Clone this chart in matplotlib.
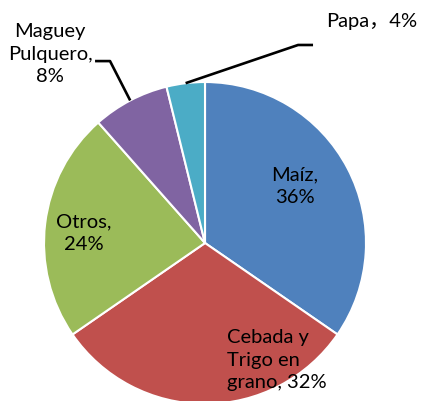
"""Pie chart: share of cultivated production by crop.

Five wedges, clockwise from 12 o'clock. Labels inside the large wedges,
leader lines with an elbow for the two small wedges at the top.
"""

import numpy as np
import matplotlib.pyplot as plt

plt.rcParams.update({
    "font.family": ["Lato", "Noto Sans CJK SC", "DejaVu Sans"],
    "font.size": 14.5,
    "lines.solid_capstyle": "butt",
})

OUT = "out.png"

BLUE   = "#4F81BD"
RED    = "#C0504D"
GREEN  = "#9BBB59"
PURPLE = "#8064A2"
AQUA   = "#4BACC6"
INK    = "#000000"
LSP    = 1.4  # line spacing of the wrapped labels


def main() -> None:
    crops = [
        {"name": "Maíz",                    "value": 36, "color": BLUE},
        {"name": "Cebada y Trigo en grano", "value": 32, "color": RED},
        {"name": "Otros",                   "value": 24, "color": GREEN},
        {"name": "Maguey Pulquero",         "value": 8,  "color": PURPLE},
        {"name": "Papa",                    "value": 4,  "color": AQUA},
    ]

    fig = plt.figure(figsize=(4.22, 4.01), dpi=100)
    # pie box is square (322 px) and runs off the bottom edge, like the original
    ax = fig.add_axes([0.1043, -0.0075, 0.763, 0.803])

    wedges, _ = ax.pie(
        [c["value"] for c in crops],
        colors=[c["color"] for c in crops],
        startangle=90, counterclock=False, radius=1.0,
        wedgeprops={"edgecolor": "white", "linewidth": 1.5},
    )
    ax.set_xlim(-1, 1)
    ax.set_ylim(-1, 1)
    ax.axis("off")

    # Labels sitting inside the wedges.
    ax.text(0.559, 0.354, "Maíz,\n36%", ha="center", va="center",
            linespacing=LSP)
    ax.text(0.137, -0.727, "Cebada y\nTrigo en\ngrano, 32%",
            ha="left", va="center", multialignment="left", linespacing=LSP)
    ax.text(-0.752, 0.062, "Otros,\n24%", ha="center", va="center",
            linespacing=LSP)

    # Outside labels with leader lines from the wedge edge.
    outside = {
        3: {"text": "Maguey\nPulquero,\n8%", "xy": (-0.963, 1.174), "ha": "center",
            "elbow": (-0.590, 1.130), "end": (-0.683, 1.130)},
        4: {"text": "Papa，4%", "xy": (0.752, 1.373), "ha": "left",
            "elbow": (0.578, 1.230), "end": (0.671, 1.230)},
    }
    for i, lab in outside.items():
        w = wedges[i]
        mid = np.deg2rad((w.theta1 + w.theta2) / 2)
        edge = (np.cos(mid), np.sin(mid))
        ax.plot([edge[0], lab["elbow"][0], lab["end"][0]],
                [edge[1], lab["elbow"][1], lab["end"][1]],
                color=INK, lw=1.9, clip_on=False)
        ax.text(*lab["xy"], lab["text"], ha=lab["ha"], va="center",
                multialignment="center", linespacing=LSP)

    fig.savefig(OUT, dpi=100, facecolor="white")
    plt.close(fig)
    print(f"wrote {OUT}")


if __name__ == "__main__":
    main()
